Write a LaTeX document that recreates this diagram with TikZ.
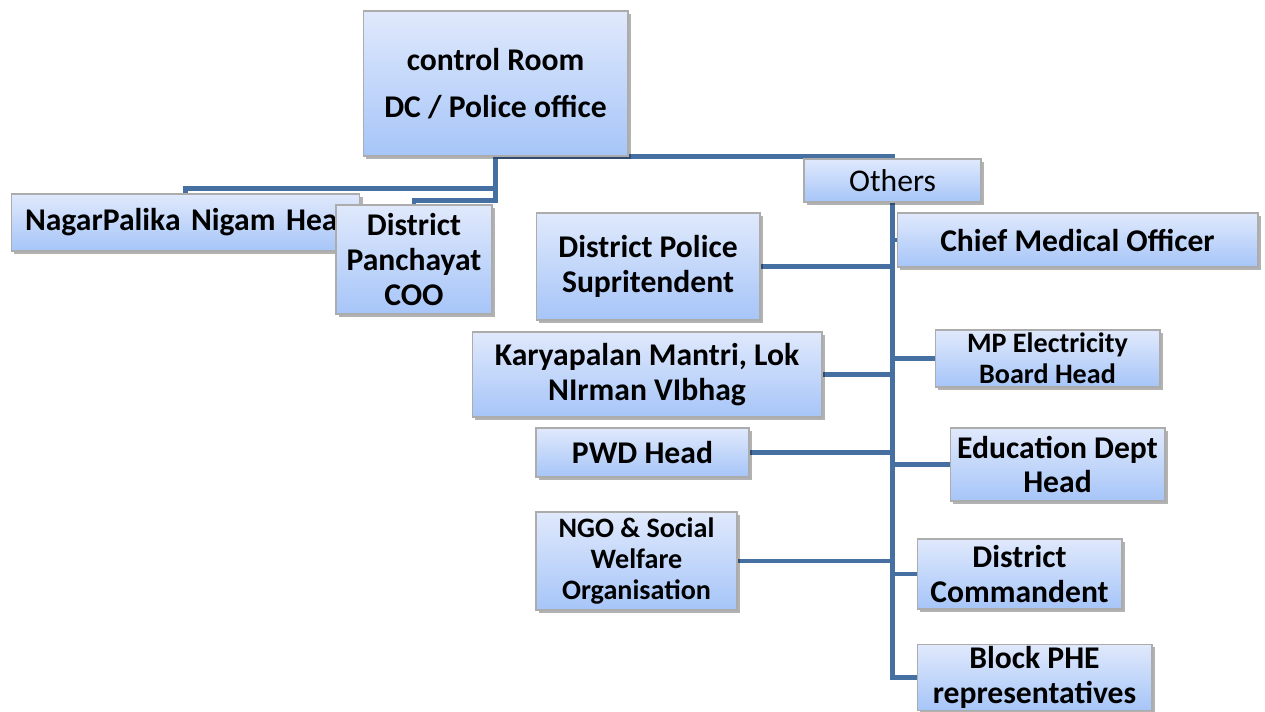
\documentclass[tikz,border=0pt]{standalone}
\usepackage{fontspec}
\setmainfont{Carlito}
\usepackage{tikz}
\usetikzlibrary{positioning,shadows,backgrounds,calc}

\definecolor{boxtop}{RGB}{224,233,252}
\definecolor{boxbot}{RGB}{166,197,248}
\definecolor{linkblue}{RGB}{70,111,162}

\begin{document}
\begin{tikzpicture}[
  x=0.02cm, y=-0.02cm,
  box/.style={rectangle,draw=gray!65,line width=0.6pt,top color=boxtop,bottom color=boxbot,
    align=center,inner sep=1pt,font=\bfseries\fontsize{18}{19.8}\selectfont,
    drop shadow={shadow xshift=1.5pt,shadow yshift=-1.5pt,opacity=0.3,fill=black}},
  small/.style={font=\bfseries\fontsize{16}{17.4}\selectfont},
  conn/.style={draw=linkblue,line width=2.6pt}
]
\useasboundingbox (0,0) rectangle (1265,711);
% top of the chart
\node[box,minimum width=5.30cm,minimum height=2.90cm,font=\bfseries\fontsize{18}{27}\selectfont] (ctrl) at (495.5,83.5) {control Room\\DC / Police office};
\node[box,minimum width=3.54cm,minimum height=0.86cm,font=\fontsize{18}{19.8}\selectfont] (others) at (892.5,180.5) {Others};
% left branch
\node[box,minimum width=6.98cm,minimum height=1.14cm,text width=6.42cm,align=left,inner xsep=0.28cm] (nagar) at (185.5,222.5) {\rlap{NagarPalika Nigam Head}};
\node[box,minimum width=3.12cm,minimum height=2.18cm] (panch) at (414,259.5) {District\\Panchayat\\COO};
% left of the trunk
\node[box,minimum width=4.48cm,minimum height=2.14cm] (police) at (648,266.5) {District Police\\Supritendent};
\node[box,minimum width=7.00cm,minimum height=1.70cm] (lok) at (647,374.5) {Karyapalan Mantri, Lok\\NIrman VIbhag};
\node[box,minimum width=4.26cm,minimum height=0.98cm] (pwd) at (642.5,452.5) {PWD Head};
\node[box,small,minimum width=4.02cm,minimum height=1.96cm] (ngo) at (636.5,561) {NGO \& Social\\Welfare\\Organisation};
% right of the trunk
\node[box,minimum width=7.22cm,minimum height=1.08cm] (cmo) at (1077.5,240) {Chief Medical Officer};
\node[box,small,minimum width=4.50cm,minimum height=1.14cm] (elec) at (1047.5,358.5) {MP Electricity\\Board Head};
\node[box,minimum width=4.30cm,minimum height=1.46cm] (edu) at (1057.5,464.5) {Education Dept\\Head};
\node[box,minimum width=4.10cm,minimum height=1.40cm] (cmdt) at (1019.5,574) {District\\Commandent};
\node[box,minimum width=4.70cm,minimum height=1.22cm] (phe) at (1034.5,677.5) {Block PHE\\representatives};

\begin{scope}[on background layer]
\draw[conn] (ctrl.south) -- ++(0,32) -| (nagar.north);
\draw[conn] (ctrl.south) -- ++(0,44) -| (panch.north);
\draw[conn] (ctrl.south) -| (others.north);
\draw[conn] (others.south) -- (others.south |- phe.west) -- (phe.west);
\draw[conn] (others.south |- police.east) -- (police.east);
\draw[conn] (others.south |- lok.east) -- (lok.east);
\draw[conn] (others.south |- pwd.east) -- (pwd.east);
\draw[conn] (others.south |- ngo.east) -- (ngo.east);
\draw[conn] (others.south |- cmo.west) -- (cmo.west);
\draw[conn] (others.south |- elec.west) -- (elec.west);
\draw[conn] (others.south |- edu.west) -- (edu.west);
\draw[conn] (others.south |- cmdt.west) -- (cmdt.west);
\end{scope}
\end{tikzpicture}
\end{document}
